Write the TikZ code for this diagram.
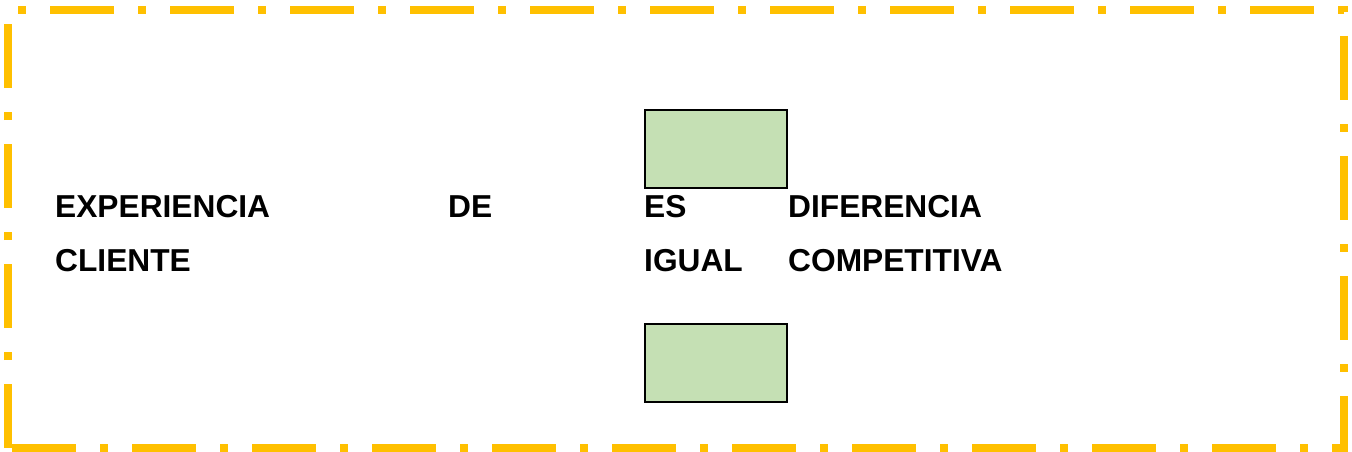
\documentclass[tikz,border=0pt]{standalone}
\usepackage{fontspec}
\setmainfont{Liberation Sans}
\definecolor{frame}{HTML}{FFC000}
\definecolor{boxgreen}{HTML}{C5E0B4}
\begin{document}
\begin{tikzpicture}[x=1pt,y=-1pt,
  word/.style={anchor=base west,inner sep=0pt,font=\fontsize{31.7}{38}\selectfont\bfseries},
  greenbox/.style={draw=black,line width=2pt,fill=boxgreen,minimum width=142pt,minimum height=78pt,inner sep=0pt,anchor=north west}]
  \useasboundingbox (0,0) rectangle (1352,452);
  % dash-dot outer frame
  \draw[frame,line width=8pt,line join=miter,dash pattern=on 64pt off 24pt on 8pt off 24pt]
    (8,448) -- (8,10) -- (1344,10) -- (1344,448) -- cycle;
  % green boxes
  \node[greenbox] (topbox) at (644,109) {};
  \node[greenbox] (botbox) at (644,323) {};
  % words
  \node[word] (exp) at (55,217) {EXPERIENCIA};
  \node[word] (de) at (448,217) {DE};
  \node[word] (es) at (644,217) {ES};
  \node[word] (dif) at (788,217) {DIFERENCIA};
  \node[word] (cli) at (55,271) {CLIENTE};
  \node[word] (igu) at (644,271) {IGUAL};
  \node[word] (com) at (788,271) {COMPETITIVA};
\end{tikzpicture}
\end{document}
